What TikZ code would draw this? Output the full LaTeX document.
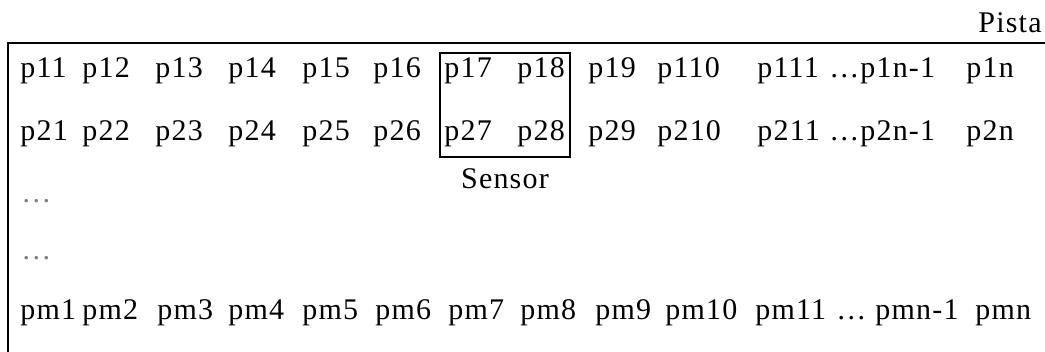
\documentclass[tikz,border=0pt]{standalone}
\usepackage{fontspec}
\setmainfont[LetterSpace=4]{Liberation Serif}
\usetikzlibrary{positioning}

\begin{document}
\begin{tikzpicture}[x=0.5pt, y=-0.5pt,
      cell/.style={anchor=base west, inner sep=0pt,
                   font=\fontsize{15}{18}\selectfont},
      sensorbox/.style={draw, line width=0.9pt, minimum width=65pt,
                        minimum height=52pt, inner sep=0pt},
      edge/.style={line width=0.9pt}]
    \useasboundingbox (0,0) rectangle (1045,352);
    \node[cell, anchor=base east] (pista) at (1042,33) {Pista};
    % rows of the track
    \foreach \x/\lbl [count=\i] in {20/p11, 82/p12, 155/p13, 228/p14,
        302/p15, 373/p16, 444/p17, 517/p18, 588/p19, 657/p110, 757/p111,
        829/\dots, 860/p1n-1, 966/p1n}
      \node[cell] (a\i) at (\x,78) {\lbl};
    \foreach \x/\lbl [count=\i] in {20/p21, 82/p22, 155/p23, 228/p24,
        302/p25, 373/p26, 444/p27, 517/p28, 588/p29, 657/p210, 757/p211,
        829/\dots, 860/p2n-1, 966/p2n}
      \node[cell] (b\i) at (\x,141) {\lbl};
    \node[cell, gray] (dots1) at (21,203) {\dots};
    \node[cell, gray] (dots2) at (21,260) {\dots};
    \foreach \x/\lbl [count=\i] in {20/pm1, 82/pm2, 157/pm3, 228/pm4,
        302/pm5, 375/pm6, 448/pm7, 520/pm8, 595/pm9, 665/pm10, 755/pm11,
        836/\dots, 875/pmn-1, 975/pmn}
      \node[cell] (m\i) at (\x,320) {\lbl};
    % sensor
    \node[sensorbox] (sensor) at (505,105) {};
    \node[cell, below=5pt of sensor] (sensorlbl) {Sensor};
    % border
    \coordinate (topleft) at (8,43);
    \coordinate (topright) at (1045,43);
    \coordinate (bottomleft) at (8,352);
    \draw[edge] (bottomleft) -- (topleft) -- (topright);
  \end{tikzpicture}
\end{document}
